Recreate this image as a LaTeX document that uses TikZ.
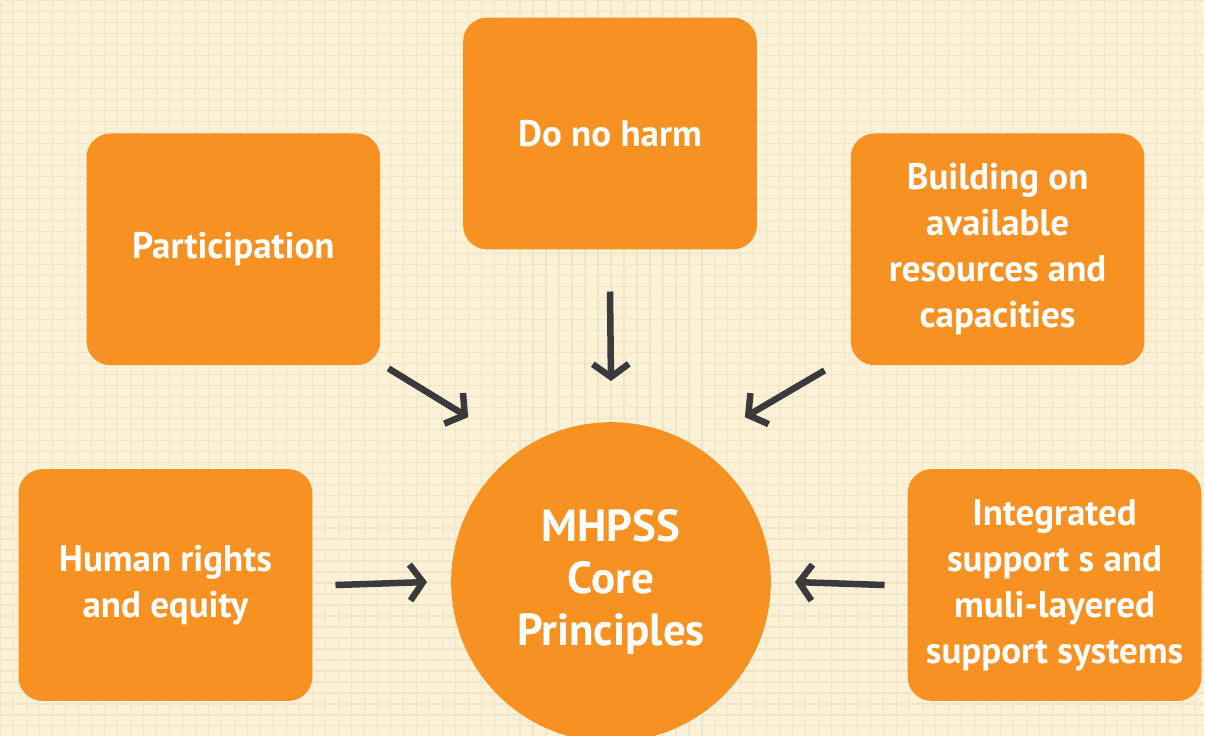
\documentclass[tikz,border=0pt]{standalone}
\usepackage{fontspec}
\setmainfont{PT Sans}
\usepackage{xcolor}
\usepackage{tikz}
\usetikzlibrary{arrows.meta,positioning,calc}
\definecolor{mhpaper}{RGB}{250,241,214}
\definecolor{mhweave}{RGB}{240,228,196}
\definecolor{mhorange}{RGB}{247,146,34}
\definecolor{mhdark}{RGB}{58,58,60}

\begin{document}
\begin{tikzpicture}[
  x=1pt, y=-1pt,
  box/.style={fill=mhorange, rounded corners=24pt, align=center, text=white,
              font=\fontsize{37}{46}\selectfont\bfseries,
              minimum width=294pt, minimum height=232pt, inner sep=0pt},
  hub/.style={circle, fill=mhorange, align=center, text=white,
              font=\fontsize{45}{52}\selectfont\bfseries,
              minimum size=320pt, inner sep=0pt},
  arr/.style={-{Straight Barb[length=13pt, width=36pt]}, line width=6.5pt, mhdark}
]
\fill[mhpaper] (0,0) rectangle (1205,736);
% faint weave of the paper
\foreach \i in {0,13,...,1205} \draw[mhweave, line width=1.2pt] (\i,0) -- (\i,736);
\foreach \j in {0,11,...,736} \draw[mhweave, line width=1.2pt] (0,\j) -- (1205,\j);
\useasboundingbox (0,0) rectangle (1205,736);
\begin{scope}
\clip (0,0) rectangle (1205,736);
\node[hub] (core) at (611,582) {MHPSS\\Core\\Principles};
\end{scope}
\node[box] (harm) at (610,133) {Do no harm};
\node[box] (part) at (233,249) {Participation};
\node[box] (bld)  at (998,249) {Building on\\available\\resources and\\capacities};
\node[box] (hr)   at (165,585) {Human rights\\and equity};
\node[box] (intg) at (1055,585) {Integrated\\support s and\\muli-layered\\support systems};
\draw[arr] ([yshift=-42]harm.south) -- ([yshift=41]core.north);
\draw[arr] ($(part.south east)+(8,3)$) -- ($(core.center)+(-143,-165)$);
\draw[arr] ($(bld.south west)+(-26,5)$) -- ($(core.center)+(134,-165)$);
\draw[arr] ([xshift=23]hr.east) -- ([xshift=-24]core.west);
\draw[arr] ([xshift=-23]intg.west) -- ([xshift=24]core.east);
\end{tikzpicture}
\end{document}
